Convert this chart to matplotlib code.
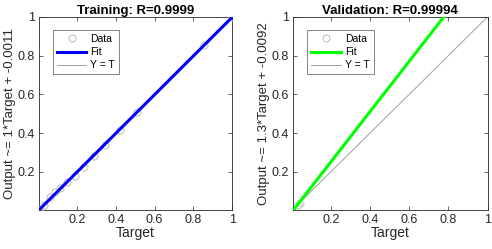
import numpy as np
import matplotlib.pyplot as plt

plt.rcParams['font.family'] = ['Liberation Sans', 'DejaVu Sans']

# ===== data =====
train_target = [0.005, 0.03, 0.06, 0.085, 0.11, 0.15, 0.19, 0.235, 0.285, 0.345, 0.42, 0.51, 0.855, 1.0]
train_output = [0.005, 0.03, 0.07, 0.095, 0.115, 0.145, 0.18, 0.225, 0.28, 0.34, 0.415, 0.51, 0.855, 1.0]
train_fit = (1.0, -0.0011)
train_R = "0.9999"

val_target = [0.03, 0.04]
val_output = [0.03, 0.04]
val_fit = (1.3, -0.0092)
val_R = "0.99994"

ticks = [0.2, 0.4, 0.6, 0.8, 1.0]
tick_labels = ["0.2", "0.4", "0.6", "0.8", "1"]

fig = plt.figure(figsize=(4.92, 2.49), dpi=100)

panels = [
    ("Training", train_target, train_output, train_fit, train_R, "#0000ff",
     (0.079, 0.157, 0.393, 0.775), (0.003, 1.0), (0.003, 1.0), "1"),
    ("Validation", val_target, val_output, val_fit, val_R, "#00ff00",
     (0.596, 0.157, 0.395, 0.775), (0.008, 0.998), (0.003, 0.996), "1.3"),
]

for title, tx, ty, (m, b), R, col, rect, xl, yl, mstr in panels:
    ax = fig.add_axes(rect)
    xs = np.array(xl)
    ax.plot(tx, ty, 'o', mfc='none', mec='#c8c8c8', ms=5, mew=0.9, label='Data', zorder=3)
    ax.plot(xs, m * xs + b, color=col, lw=2.2, label='Fit', zorder=4)
    ax.plot(xs, xs, color='#a0a0a0', lw=0.7, label='Y = T', zorder=2)
    ax.set_xlim(xl)
    ax.set_ylim(yl)
    ax.set_xticks(ticks)
    ax.set_xticklabels(tick_labels)
    ax.set_yticks(ticks)
    ax.set_yticklabels(tick_labels)
    ax.tick_params(direction='in', length=3, width=0.5, labelsize=9, colors='#262626',
                   top=True, right=True, pad=3)
    for s in ax.spines.values():
        s.set_color('#262626')
        s.set_linewidth(0.6)
    ax.set_title(f"{title}: R={R}", fontsize=9.5, fontweight='bold', pad=2)
    ax.set_xlabel("Target", fontsize=10, labelpad=0, color='#262626')
    ax.set_ylabel(f"Output ~= {mstr}*Target + {b:.4f}", fontsize=9.5,
                  labelpad=1, color='#262626')
    leg = ax.legend(loc='upper left', fontsize=7.5, frameon=True, fancybox=False,
                    edgecolor='#262626', handlelength=2.8, handletextpad=0.4,
                    borderpad=0.4, labelspacing=0.3, bbox_to_anchor=(0.045, 0.96))
    leg.get_frame().set_linewidth(0.5)

fig.savefig("out.png", dpi=100)
